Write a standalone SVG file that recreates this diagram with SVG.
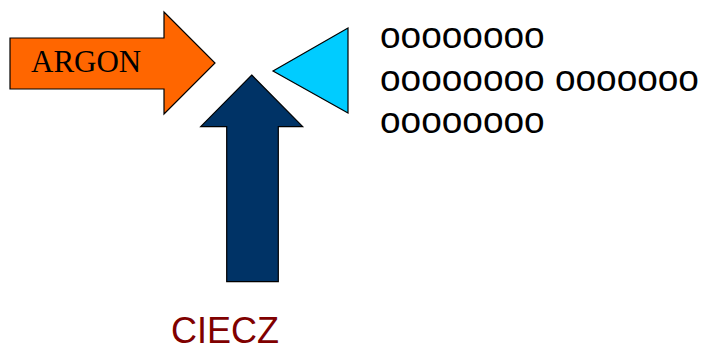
<svg xmlns="http://www.w3.org/2000/svg" width="703" height="351" viewBox="0 0 703 351">
<style>
.shape{stroke:#000;stroke-width:1.2;stroke-linejoin:miter}
.sans{font-family:"Liberation Sans",Arial,sans-serif}
.serif{font-family:"Liberation Serif","Times New Roman",serif}
</style>
<rect width="703" height="351" fill="#fff"/>
<g id="argon">
<polygon class="shape" fill="#FF6600" points="10,38 164,38 164,12 215,63 164,114 164,89 10,89"/>
<text class="serif" x="31" y="72" font-size="31" fill="#000">ARGON</text>
</g>
<g id="triangle">
<polygon class="shape" fill="#00CCFF" points="273,71 348,28 348,113"/>
</g>
<g id="ciecz">
<polygon class="shape" fill="#003366" points="251.7,75 302.7,126.7 278.3,126.7 278.3,281.7 226.7,281.7 226.7,126.7 200.7,126.7"/>
<text class="sans" x="171" y="343" font-size="36" fill="#800000">CIECZ</text>
</g>
<g id="label">
<text class="sans" font-size="37" fill="#000"><tspan x="380" y="48">oooooooo</tspan><tspan x="380" y="90.5">oooooooo ooooooo</tspan><tspan x="380" y="133">oooooooo</tspan></text>
</g>
<g id="connectors"></g>
</svg>
